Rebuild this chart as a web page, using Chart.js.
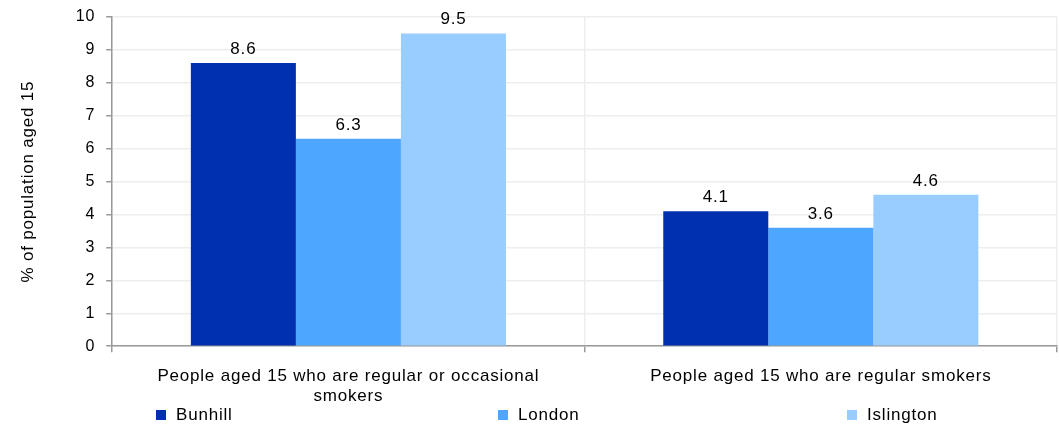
<!DOCTYPE html>
<html>
<head>
<meta charset="utf-8">
<script src="https://cdn.jsdelivr.net/npm/chart.js@4"></script>
<style>
  body { margin: 0; background: #fff; }
  #wrap { position: relative; width: 1059px; height: 425px; }
  #legend { position: absolute; left: 0; top: 405px; width: 1059px; height: 20px;
            font: 17px "Liberation Sans", Arial, sans-serif; letter-spacing: 0.8px; color: #000; }
  .item { position: absolute; top: 0; display: flex; align-items: center; }
  .box { width: 10px; height: 10px; margin-right: 10px; }
</style>
</head>
<body>
<div id="wrap">
  <canvas id="chart" width="1059" height="425"></canvas>
  <div id="legend"></div>
</div>
<script>
const categories = [
    ['People aged 15 who are regular or occasional', 'smokers'],
    'People aged 15 who are regular smokers'
];
const seriesNames = ['Bunhill', 'London', 'Islington'];
const bunhill = [8.6, 4.1];
const london = [6.3, 3.6];
const islington = [9.5, 4.6];
const colors = ['#002fb0', '#4da6ff', '#99ccff'];
const legendLeft = [156, 498, 847];

const fontFamily = '"Liberation Sans", Arial, sans-serif';

// the source chart has slightly wider text than plain Arial
const spacing = {
    id: 'spacing',
    beforeDraw(chart) {
        chart.ctx.letterSpacing = '0.8px';
    }
};

// value labels above each bar
const barLabels = {
    id: 'barLabels',
    afterDatasetsDraw(chart) {
        const ctx = chart.ctx;
        ctx.save();
        ctx.font = '17px ' + fontFamily;
        ctx.fillStyle = '#000';
        ctx.textAlign = 'center';
        ctx.textBaseline = 'alphabetic';
        chart.data.datasets.forEach((ds, i) => {
            chart.getDatasetMeta(i).data.forEach((bar, j) => {
                ctx.fillText(ds.data[j].toFixed(1), bar.x, bar.y - 9);
            });
        });
        ctx.restore();
    }
};

const ctx = document.getElementById('chart').getContext('2d');
new Chart(ctx, {
    type: 'bar',
    data: {
        labels: categories,
        datasets: [
            { label: seriesNames[0], data: bunhill, backgroundColor: colors[0] },
            { label: seriesNames[1], data: london, backgroundColor: colors[1] },
            { label: seriesNames[2], data: islington, backgroundColor: colors[2] }
        ]
    },
    options: {
        responsive: false,
        animation: false,
        datasets: { bar: { categoryPercentage: 0.667, barPercentage: 1.0 } },
        layout: { padding: { top: 17, right: 2, bottom: 4, left: 14 } },
        plugins: {
            legend: { display: false },
            tooltip: { enabled: false }
        },
        scales: {
            x: {
                grid: { color: '#eeeeee', tickColor: '#999999', tickLength: 6, lineWidth: 1.5 },
                border: { color: '#999999', width: 1.5 },
                ticks: { color: '#000', font: { size: 17, family: fontFamily, lineHeight: 1.2 },
                         padding: 14, maxRotation: 0, autoSkip: false }
            },
            y: {
                min: 0,
                max: 10,
                afterFit(scale) {
                    // tick padding otherwise pushes the plot top down
                    scale.paddingTop = 0;
                },
                ticks: { stepSize: 1, color: '#000', font: { size: 16, family: fontFamily }, padding: 11 },
                grid: { color: '#eeeeee', tickColor: '#999999', tickLength: 6, lineWidth: 1.5 },
                border: { color: '#999999', width: 1.5 },
                title: { display: true, text: '% of population aged 15', color: '#000',
                         font: { size: 17, family: fontFamily }, padding: { top: 4, bottom: 28 } }
            }
        }
    },
    plugins: [spacing, barLabels]
});

const legend = document.getElementById('legend');
seriesNames.forEach((name, i) => {
    const item = document.createElement('div');
    item.className = 'item';
    item.style.left = legendLeft[i] + 'px';
    item.innerHTML = '<span class="box" style="background:' + colors[i] + '"></span>' + name;
    legend.appendChild(item);
});
</script>
</body>
</html>
